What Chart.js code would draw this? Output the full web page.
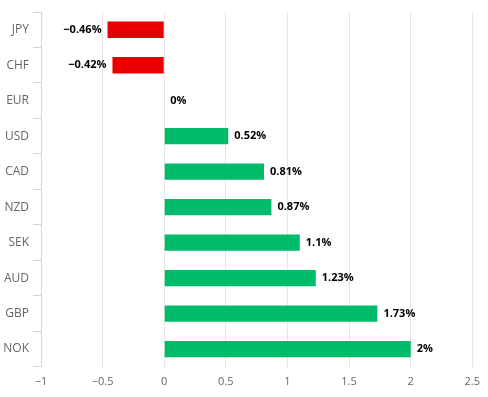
<!DOCTYPE html>
<html>
<head>
<meta charset="utf-8">
<script src="https://cdn.jsdelivr.net/npm/chart.js@4"></script>
<style>
  html, body { margin: 0; padding: 0; background: #fff; }
  #wrap { width: 488px; height: 397px; position: relative; }
</style>
</head>
<body>
<div id="wrap"><canvas id="barChart"></canvas></div>
<script>
var currencies = ['JPY', 'CHF', 'EUR', 'USD', 'CAD', 'NZD', 'SEK', 'AUD', 'GBP', 'NOK'];
var changes = [-0.46, -0.42, 0, 0.52, 0.81, 0.87, 1.1, 1.23, 1.73, 2];
var xTicks = [-1, -0.5, 0, 0.5, 1, 1.5, 2, 2.5];

var RED = '#e60000';
var GREEN = '#00bb6a';
var FONT = '"Open Sans", "DejaVu Sans", sans-serif';

function minusSign(v) {
  return String(v).replace('-', '\u2212');
}

// draws the "x.xx%" text beside every bar
var valueLabels = {
  id: 'valueLabels',
  afterDatasetsDraw: function(chart) {
    var ctx = chart.ctx;
    var meta = chart.getDatasetMeta(0);
    ctx.save();
    ctx.font = 'bold 11px ' + FONT;
    ctx.fillStyle = '#000';
    ctx.textBaseline = 'middle';
    meta.data.forEach(function(bar, i) {
      var v = changes[i];
      var txt = minusSign(v) + '%';
      if (v < 0) {
        ctx.textAlign = 'right';
        ctx.fillText(txt, bar.x - 6, bar.y);
      } else {
        ctx.textAlign = 'left';
        ctx.fillText(txt, bar.x + 6, bar.y);
      }
    });
    ctx.restore();
  }
};

function createChart() {
  var el = document.getElementById('barChart');
  new Chart(el, {
    type: 'bar',
    data: {
      labels: currencies,
      datasets: [{
        data: changes,
        backgroundColor: changes.map(function(v) { return v < 0 ? RED : GREEN; }),
        borderWidth: 0,
        categoryPercentage: 1,
        barPercentage: 0.46,
      }],
    },
    options: {
      indexAxis: 'y',
      responsive: true,
      maintainAspectRatio: false,
      animation: false,
      layout: { padding: { top: 12, right: 15, left: 0, bottom: 1 } },
      scales: {
        x: {
          min: xTicks[0],
          max: xTicks[xTicks.length - 1],
          afterBuildTicks: function(axis) {
            axis.ticks = xTicks.map(function(v) { return { value: v }; });
          },
          ticks: {
            callback: function(v) { return minusSign(v); },
            color: '#666',
            font: { family: FONT, size: 11 },
            padding: 8,
          },
          grid: { color: '#e6e6e6', drawTicks: false },
          border: { display: false },
        },
        y: {
          afterFit: function(axis) { axis.width = 41; },
          ticks: {
            color: '#666',
            font: { family: FONT, size: 12 },
            padding: 4,
          },
          grid: {
            offset: true,
            drawOnChartArea: false,
            color: '#ccd6eb',
            tickLength: 8,
          },
          border: { color: '#ccd6eb' },
        },
      },
      plugins: {
        legend: { display: false },
        tooltip: { enabled: false },
      },
    },
    plugins: [valueLabels],
  });
}

window.onload = function() {
  createChart();
};
</script>
</body>
</html>
